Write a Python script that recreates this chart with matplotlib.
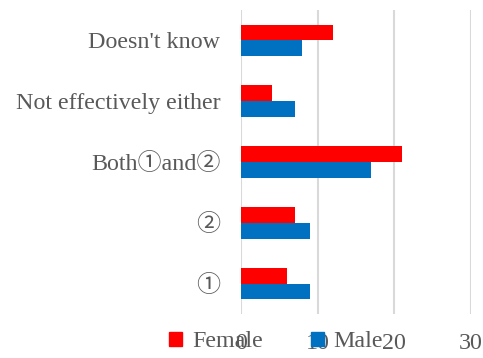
import matplotlib
matplotlib.use("Agg")
import matplotlib.pyplot as plt
import numpy as np
from matplotlib.patches import Patch

categories = ["①", "②", "Both①and②", "Not effectively either", "Doesn't know"]
female = [6, 7, 21, 4, 12]
male = [9, 9, 17, 7, 8]
xticks = [0, 10, 20, 30]

plt.rcParams['font.family'] = ['Liberation Serif', 'Noto Sans CJK JP', 'DejaVu Sans']
text_color = "#595959"
red = "#FF0000"
blue = "#0070C0"
fs = 17.3

fig = plt.figure(figsize=(4.83, 3.58), dpi=100)
ax = fig.add_axes([0.499, 0.123, 0.476, 0.849])

y = np.arange(len(categories))
h = 0.26
ax.barh(y + h / 2, female, height=h, color=red, label="Female", zorder=3)
ax.barh(y - h / 2, male, height=h, color=blue, label="Male", zorder=3)

ax.set_xlim(0, 30)
ax.set_ylim(-0.5, len(categories) - 0.5)
ax.set_xticks(xticks)
ax.set_xticklabels([str(t) for t in xticks])
ax.set_yticks(y)
ax.set_yticklabels(categories)
ax.tick_params(axis="both", length=0, labelsize=fs, colors=text_color)
ax.tick_params(axis="y", pad=15)
ax.tick_params(axis="x", pad=14)
ax.grid(axis="x", color="#D9D9D9", linewidth=1.5, zorder=0)
for s in ax.spines.values():
    s.set_visible(False)

handles = [Patch(color=red), Patch(color=blue)]
fig.legend(handles, ["Female", "Male"], loc="center left",
           bbox_to_anchor=(0.35, 0.045), ncol=2, frameon=False,
           fontsize=fs, labelcolor=text_color,
           handlelength=0.55, handleheight=0.55, handletextpad=0.4,
           columnspacing=2.0, borderpad=0, borderaxespad=0)

fig.savefig("out.png", dpi=100)
